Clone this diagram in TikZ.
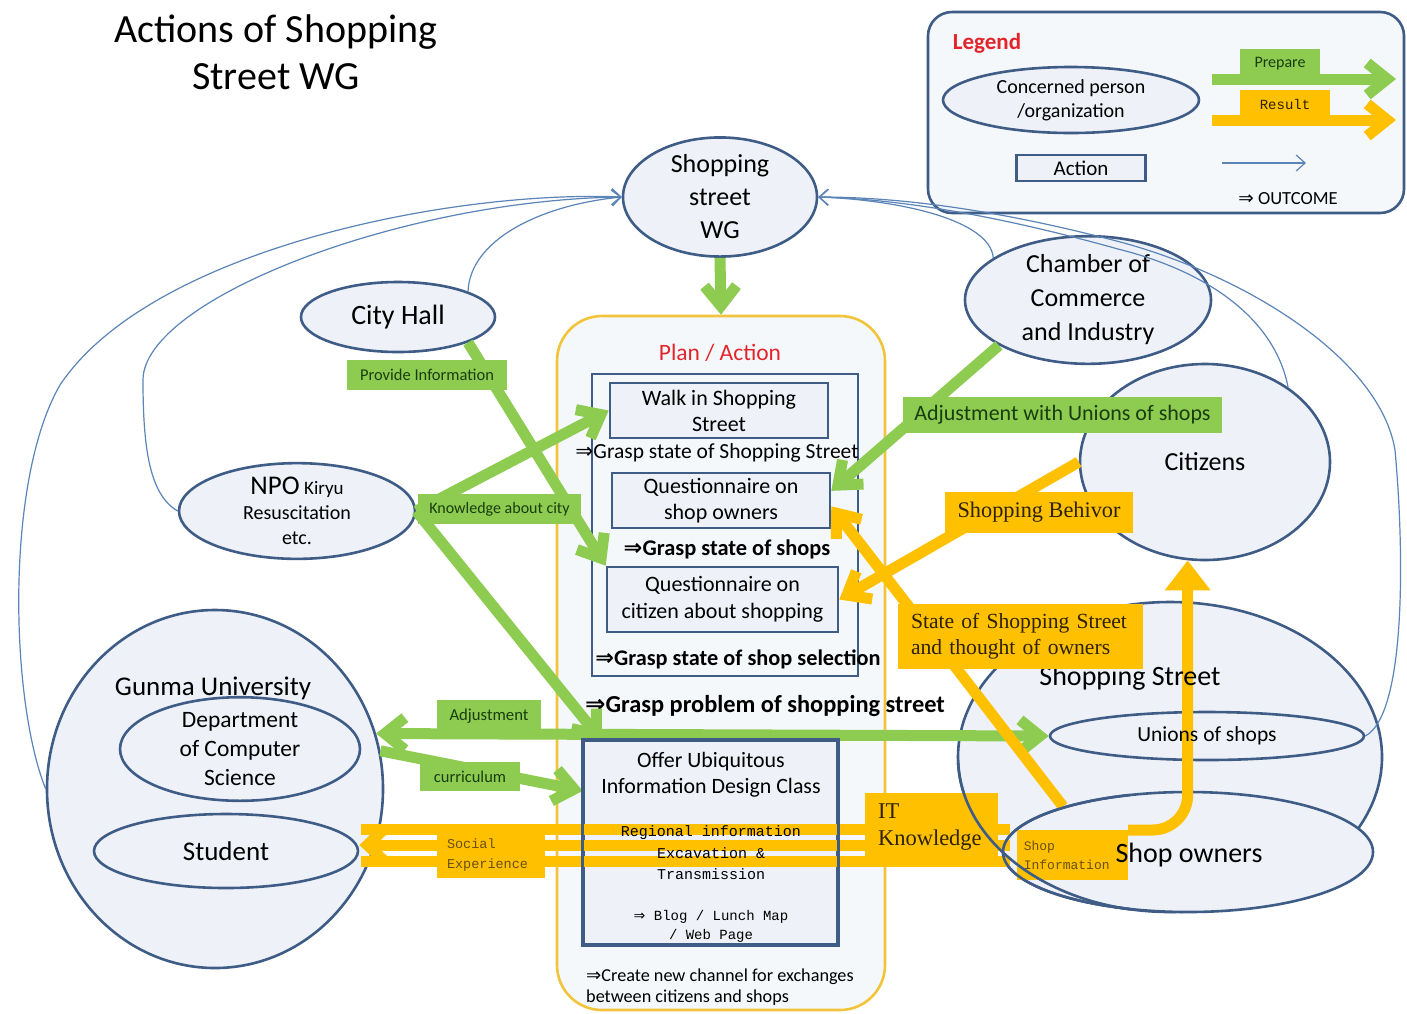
\documentclass[tikz,border=0pt]{standalone}
\usepackage{fontspec}
\setmainfont{Carlito}
\newfontfamily\serifl{Liberation Serif}
\newfontfamily\monol{Liberation Mono}
\newfontfamily\symf{DejaVu Sans}
\usetikzlibrary{shapes.geometric,arrows.meta,calc}

\definecolor{nodeblue}{HTML}{3E5C86}
\definecolor{nodefill}{HTML}{EEF2F8}
\definecolor{linkblue}{HTML}{5B84B8}
\definecolor{pgreen}{HTML}{8DCC50}
\definecolor{pyellow}{HTML}{FFC000}
\definecolor{planyellow}{HTML}{F2C43C}
\definecolor{planfill}{HTML}{F5F8FB}
\definecolor{headred}{HTML}{E3242B}
\definecolor{gtext}{HTML}{1A3D0F}
\definecolor{ytext}{HTML}{2E2200}
\definecolor{ytextsoft}{HTML}{6A5010}

\newcommand{\fsz}[2]{\fontsize{#1}{#2}\selectfont}
\newcommand{\arrowthen}{{\symf ⇒}}

\tikzset{
  org/.style={ellipse, draw=nodeblue, line width=2.6pt, fill=nodefill, inner sep=0pt, align=center},
  actbox/.style={rectangle, draw=nodeblue, line width=2.6pt, fill=nodefill, inner sep=0pt, align=center},
  outline/.style={rectangle, draw=nodeblue, line width=2.6pt, inner sep=0pt},
  fb/.style={draw=linkblue, line width=1.2pt, -{Straight Barb[length=9pt,width=16pt]}},
  garrow/.style={draw=pgreen, line width=11pt, -{Straight Barb[length=20pt,width=32pt]}},
  yarrow/.style={draw=pyellow, line width=11pt, -{Straight Barb[length=20pt,width=32pt]}},
  yline/.style={draw=pyellow, line width=11pt},
  glabel/.style={fill=pgreen, inner sep=0pt, text=gtext},
  ylabel/.style={fill=pyellow, inner sep=0pt, text=ytext},
  txt/.style={inner sep=0pt, align=center},
}

\begin{document}
\begin{tikzpicture}[x=1pt,y=-1pt]
\useasboundingbox (0,0) rectangle (1407,1013);
\fill[white] (0,0) rectangle (1407,1013);

% ---------- title ----------
\node[txt, font=\fsz{40}{47}] (title) at (276,52) {Actions of Shopping\\Street WG};

% ---------- legend ----------
\node[draw=nodeblue, line width=2.6pt, fill=planfill, rounded corners=24pt,
      minimum width=476pt, minimum height=201pt, inner sep=0pt] (legend) at (1166,112.5) {};
\node[txt, font=\fsz{23}{26}\bfseries, text=headred] (legtitle) at (987,43) {Legend};
\node[org, minimum width=256pt, minimum height=66pt, font=\fsz{20}{24}] (legorg) at (1071,100) {Concerned person\\/organization};
\node[actbox, minimum width=129pt, minimum height=26pt, font=\fsz{21}{24}] (legact) at (1081,168) {Action};
\coordinate (lgs) at (1212,79);  \coordinate (lge) at (1396,79);
\coordinate (lys) at (1212,120); \coordinate (lye) at (1396,120);
\coordinate (lbs) at (1222,163); \coordinate (lbe) at (1306,163);
\draw[garrow] (lgs) -- (lge);
\draw[yarrow] (lys) -- (lye);
\draw[fb] (lbs) -- (lbe);
\node[glabel, minimum width=80pt, minimum height=30pt, font=\fsz{16}{18}] (legprep) at (1280,64) {Prepare};
\node[ylabel, minimum width=90pt, minimum height=28pt, font=\monol\fsz{14}{16}] (legres) at (1285,104) {Result};
\node[txt, font=\fsz{18.5}{22}] (legout) at (1288,199) {\arrowthen\ OUTCOME};

% ---------- concerned persons / organizations ----------
\node[org, minimum width=194pt, minimum height=100pt, font=\fsz{26}{33}] (wg) at (720,197) {Shopping\\street\\WG};
\node[org, minimum width=194pt, minimum height=70pt, font=\fsz{28}{32}] (cityhall) at (398,317) {City Hall};
\node[org, minimum width=246pt, minimum height=124pt, font=\fsz{26}{34}] (chamber) at (1088,300) {Chamber of\\Commerce\\and Industry};
\node[org, minimum width=236pt, minimum height=90pt, font=\fsz{20}{25}] (npo) at (297,511) {{\fsz{27}{28}NPO} {\fsz{19}{25}Kiryu}\\Resuscitation\\etc.};
\node[org, minimum width=250pt, minimum height=196pt, font=\fsz{26}{30}] (citizens) at (1205,462) {Citizens};

\node[org, minimum width=336pt, minimum height=358pt] (gunma) at (215,789) {};
\node[txt, font=\fsz{27}{30}] (gunmaname) at (213,688) {Gunma University};
\node[org, minimum width=240pt, minimum height=94pt, font=\fsz{23.5}{29}] (dept) at (240,749) {Department\\of Computer\\Science};
\node[org, minimum width=264pt, minimum height=74pt, font=\fsz{27}{30}] (student) at (226,851) {Student};

\node[org, minimum width=424pt, minimum height=310pt] (shopstreet) at (1170,757) {};
\node[org, minimum width=314pt, minimum height=48pt] (unions) at (1207,736) {};
\node[org, minimum width=370pt, minimum height=120pt] (shopowners) at (1188,852) {};

% ---------- thin links back to the working group ----------
\draw[fb] (gunma.west) .. controls (10,700) and (5,480) .. (60,385) .. controls (150,250) and (450,190) .. (wg.west);
\draw[fb] (npo.west) .. controls (150,495) and (143,450) .. (143,380) .. controls (143,300) and (400,200) .. (wg.west);
\draw[fb] (cityhall.20) .. controls (470,240) and (540,205) .. (wg.west);
\draw[fb] (chamber.156) .. controls (990,220) and (900,200) .. (wg.east);
\draw[fb] (citizens.42) .. controls (1275,320) and (1210,272) .. (1118,249) .. controls (1000,216) and (900,199) .. (wg.east);
\draw[fb] (unions.east) .. controls (1405,715) and (1405,560) .. (1395,450) .. controls (1380,360) and (1250,278) .. (1124,243) .. controls (1000,210) and (900,197) .. (wg.east);

% ---------- plan / action ----------
\node[draw=planyellow, line width=2.6pt, fill=planfill, rounded corners=45pt,
      minimum width=328pt, minimum height=694pt, inner sep=0pt] (plan) at (721,663) {};
\node[txt, text=headred, font=\fsz{23.5}{26}] (plantitle) at (720,353) {Plan / Action};
\node[outline, minimum width=266pt, minimum height=302pt] (survey) at (725,525) {};
\node[actbox, minimum width=218pt, minimum height=55pt, font=\fsz{22}{26}] (walk) at (719,410.5) {Walk in Shopping\\Street};
\node[txt, font=\fsz{21.5}{24}] (graspss) at (717,453) {\arrowthen Grasp state of Shopping Street};
\node[actbox, minimum width=218pt, minimum height=55pt, font=\fsz{22}{26}] (q1) at (721,500.5) {Questionnaire on\\shop owners};
\node[txt, font=\fsz{22.4}{25}\bfseries] (graspshops) at (727,549) {\arrowthen Grasp state of shops};
\node[actbox, minimum width=231pt, minimum height=65pt, font=\fsz{22}{27}] (q2) at (722.5,599.5) {Questionnaire on\\citizen about shopping};
\node[txt, font=\fsz{22.3}{25}\bfseries] (graspsel) at (738,659) {\arrowthen Grasp state of shop selection};
\node[txt, font=\fsz{24.4}{27}\bfseries] (graspprob) at (765,706) {\arrowthen Grasp problem of shopping street};
\node[actbox, minimum width=253pt, minimum height=203pt] (offer) at (710.5,842.5) {};
\node[txt, anchor=west, align=left, font=\fsz{18.2}{21}] (channel) at (586,987) {\arrowthen Create new channel for exchanges\\between citizens and shops};

% ---------- green flows (prepare) ----------
\coordinate (offerIn) at (602,741);
\draw[garrow] (wg.south) -- (plan.north);
\draw[garrow] (cityhall.-20) -- (q2.north west);
\draw[garrow] (npo.east) -- (walk.west);
\draw[garrow] (npo.east) -- (offerIn);
\draw[garrow] (chamber.-153) -- (q1.5);
\draw[garrow, {Straight Barb[length=20pt,width=32pt]}-{Straight Barb[length=20pt,width=32pt]}] (gunma.19) -- (unions.west);
\draw[garrow] (gunma.13) -- (offer.158);

% ---------- yellow flows (result) ----------
\coordinate (siCorner) at (1128,830);
\draw[yarrow] (citizens.west) -- (q2.east);
\draw[yarrow] (shopowners.160) -- (q1.-3);
\draw[yline, -{Triangle[length=30pt,width=44pt]}, rounded corners=35pt] (siCorner) -| (citizens.-100);
\draw[yline] ($(shopowners.west)+(8,-23)$) -- ($(student.east)+(2,-22)$);
\draw[yline, -{Straight Barb[length=16pt,width=30pt]}] ($(shopowners.west)+(8,-7)$) -- ($(student.east)+(0,-6)$);
\draw[yline] ($(shopowners.west)+(8,9)$) -- ($(student.east)+(2,10)$);

% ---------- names set over the flows ----------
\node[txt, font=\fsz{28}{30}] (ssname) at (1130,678) {Shopping Street};
\node[txt, font=\fsz{21.5}{24}] (unionsname) at (1207,736) {Unions of shops};

% ---------- flow labels ----------
\node[glabel, minimum width=160pt, minimum height=30pt, font=\fsz{16.5}{18}] (lprovide) at (427,375) {Provide Information};
\node[glabel, minimum width=163pt, minimum height=30pt, font=\fsz{16}{18}] (lknow) at (499.5,509) {Knowledge about city};
\node[glabel, minimum width=104pt, minimum height=32pt, font=\fsz{16.7}{18}] (ladjust) at (489,716) {Adjustment};
\node[glabel, minimum width=100pt, minimum height=29pt, font=\fsz{16.5}{18}] (lcurr) at (470,776.5) {curriculum};
\node[glabel, minimum width=319pt, minimum height=36pt, font=\fsz{22}{24}] (ladjunion) at (1062.5,415) {Adjustment with Unions of shops};
\node[ylabel, minimum width=188pt, minimum height=41pt, font=\serifl\fsz{22.3}{24}] (lbehav) at (1039,512.5) {Shopping Behivor};
\node[ylabel, minimum width=245pt, minimum height=65pt, text width=219pt, align=left, inner xsep=13pt,
      font=\serifl\fsz{21.6}{26}] (lstate) at (1020.5,636.5) {State of Shopping Street\\and thought of owners};
\node[ylabel, minimum width=131pt, minimum height=69pt, text width=107pt, align=left, inner xsep=13pt,
      font=\serifl\fsz{22.5}{27}] (lit) at (931.5,827.5) {IT\\Knowledge};
\node[ylabel, minimum width=108pt, minimum height=46pt, text width=88pt, align=left, inner xsep=10pt,
      text=ytextsoft, font=\monol\fsz{13.5}{20}] (lsocial) at (491,855) {Social\\Experience};
\node[ylabel, anchor=north east, minimum width=111pt, minimum height=50pt, text width=97pt, align=left, inner xsep=7pt,
      text=ytextsoft, font=\monol\fsz{13}{19}] (shopinfo) at (siCorner) {Shop\\Information};

% ---------- class box contents on top of the flows ----------
\draw[nodeblue, line width=2.6pt] (offer.north west) rectangle (offer.south east);
\node[txt, font=\fsz{21.9}{26}] (offertitle) at (711,775) {Offer Ubiquitous\\Information Design Class};
\node[txt, font=\monol\fsz{15}{21.5}] (offerbody) at (711,853) {Regional information\\Excavation \&\\Transmission};
\node[txt, font=\monol\fsz{14}{19}] (offerout) at (711,926) {\arrowthen\ Blog / Lunch Map\\/ Web Page};

% ---------- shopping street outlines over the labels ----------
\begin{scope}
  \clip (900,760) rectangle (1130,1013);
  \draw[nodeblue, line width=2.6pt] (shopstreet.center) ellipse [x radius=212, y radius=155];
  \draw[nodeblue, line width=2.6pt] (shopowners.center) ellipse [x radius=185, y radius=60];
\end{scope}
\node[txt, font=\fsz{28}{30}] (soname) at (1189,855) {Shop owners};

\end{tikzpicture}
\end{document}
